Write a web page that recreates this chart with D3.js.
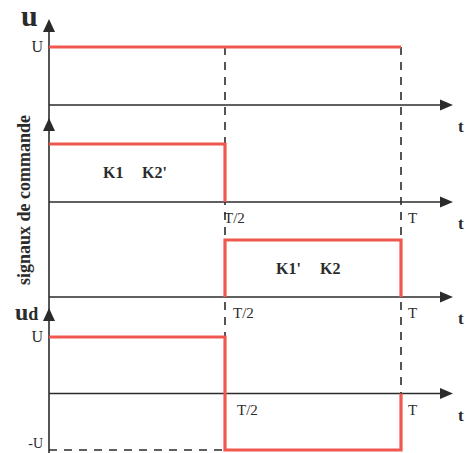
<!DOCTYPE html>
<html><head><meta charset="utf-8">
<script src="https://cdn.jsdelivr.net/npm/d3@7"></script>
<style>body{margin:0;background:#fff}svg{display:block}</style>
</head><body>
<script>
// ---- data ----
const T = 1;
const timeTicks = [0.5, 1];
const tickLabels = ["T/2", "T"];
const sigU = [[0, 1], [1, 1]];                       // u(t) = U
const sigK1K2p = [[0, 1], [0.5, 1], [0.5, 0]];        // K1 K2'
const sigK1pK2 = [[0.5, 0], [0.5, 1], [1, 1], [1, 0]];// K1' K2
const sigUd = [[0, 1], [0.5, 1], [0.5, -1], [1, -1], [1, 0]]; // ud(t)
const panelLabels = ["u", "ud"];
const levelLabels = ["U", "-U"];
const switchLabels = [["K1", "K2'"], ["K1'", "K2"]];
const sideTitle = "signaux de commande";

const W = 466, H = 453;
const svg = d3.select("body").append("svg").attr("width", W).attr("height", H);
const x = d3.scaleLinear().domain([0, T]).range([49, 401]);
const xEnd = 453;
const red = "#f0584f", ink = "#2b2b2b";
const serif = "Liberation Serif, Times New Roman, DejaVu Serif, serif";

const panels = [
  {y: d3.scaleLinear().domain([0, 1]).range([105, 47]), data: sigU},
  {y: d3.scaleLinear().domain([0, 1]).range([202, 144]), data: sigK1K2p},
  {y: d3.scaleLinear().domain([0, 1]).range([297, 240]), data: sigK1pK2},
  {y: d3.scaleLinear().domain([-1, 1]).range([450, 337]), data: sigUd}
];

const line = (ys) => d3.line().x(d => x(d[0])).y(d => ys(d[1]));

// dashed verticals
timeTicks.forEach(t => {
  svg.append("line").attr("x1", x(t)).attr("x2", x(t))
    .attr("y1", panels[0].y(1)).attr("y2", t < 1 ? panels[3].y(-1) : panels[3].y(0))
    .attr("stroke", ink).attr("stroke-width", 1.6).attr("stroke-dasharray", "8,7");
});
// dashed -U
svg.append("line").attr("x1", x(0)).attr("x2", x(0.5))
  .attr("y1", panels[3].y(-1)).attr("y2", panels[3].y(-1))
  .attr("stroke", ink).attr("stroke-width", 1.6).attr("stroke-dasharray", "8,7");

function arrowPath(tx, ty, dir) {
  if (dir === "r") return `M${tx},${ty} L${tx-13},${ty-5.5} L${tx-13},${ty+5.5} Z`;
  return `M${tx},${ty} L${tx-6},${ty+13} L${tx+6},${ty+13} Z`;
}
panels.forEach(p => {
  const y0 = p.y(0);
  svg.append("line").attr("x1", x(0)).attr("x2", xEnd - 6).attr("y1", y0).attr("y2", y0)
    .attr("stroke", ink).attr("stroke-width", 1.4);
  svg.append("path").attr("d", arrowPath(xEnd, y0, "r")).attr("fill", ink);
  svg.append("text").attr("x", 458).attr("y", y0 + 27).text("t")
    .attr("font-family", serif).attr("font-size", 17).attr("font-weight", "bold").attr("fill", ink);
});

// vertical axis
svg.append("line").attr("x1", x(0)).attr("x2", x(0)).attr("y1", 22).attr("y2", H)
  .attr("stroke", ink).attr("stroke-width", 1.6);
[19, 118, 308].forEach(ty => svg.append("path").attr("d", arrowPath(x(0), ty, "u")).attr("fill", ink));

// signals
panels.forEach(p => {
  svg.append("path").attr("d", line(p.y)(p.data)).attr("fill", "none")
    .attr("stroke", red).attr("stroke-width", 3.2).attr("stroke-linejoin", "miter");
});

const txt = (s, tx, ty, size, bold, anchor) => svg.append("text").attr("x", tx).attr("y", ty).text(s)
  .attr("font-family", serif).attr("font-size", size).attr("font-weight", bold ? "bold" : "normal")
  .attr("text-anchor", anchor || "start").attr("fill", ink);

// panel labels
txt(panelLabels[0], 21, 26, 30, true);
const ud = txt("u", 15, 320, 24, true);
ud.append("tspan").text("d").attr("font-size", 18);
// level labels
txt(levelLabels[0], 43, panels[0].y(1) + 5, 16, false, "end");
txt(levelLabels[0], 43, panels[3].y(1) + 5, 16, false, "end");
txt(levelLabels[1], 43, 448, 14, false, "end");

// tick labels
[[panels[1], 224], [panels[2], 233], [panels[3], 237]].forEach(([p, tx]) => {
  const y0 = p.y(0);
  txt(tickLabels[0], tx, y0 + 21, 15, false);
  txt(tickLabels[1], 408, y0 + 21, 15, false);
});

// switch labels
txt(switchLabels[0][0], 103, 178, 16, true);
txt(switchLabels[0][1], 142, 178, 16, true);
txt(switchLabels[1][0], 276, 274, 16, true);
txt(switchLabels[1][1], 320, 274, 16, true);

// side title
svg.append("text").attr("transform", "translate(30,285) rotate(-90)").text(sideTitle)
  .attr("font-family", serif).attr("font-size", 18).attr("font-weight", 600)
  .attr("textLength", 170).attr("lengthAdjust", "spacingAndGlyphs").attr("fill", ink);
</script>
</body></html>
